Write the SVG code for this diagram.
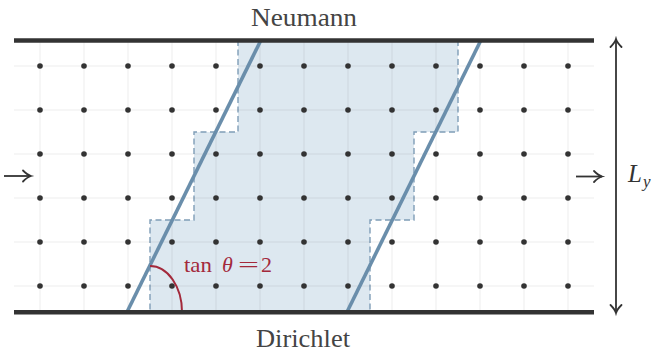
<svg xmlns="http://www.w3.org/2000/svg" width="654" height="352" viewBox="0 0 654 352">
<style>
.grid{stroke:#000;stroke-opacity:0.075;stroke-width:1;fill:none}
.dot{fill:#333}
.bar{stroke:#333;stroke-width:4.5;fill:none}
.dash{stroke:#7f9db7;stroke-width:1.4;stroke-dasharray:6,3.5;fill:none}
.slope{stroke:#6a8eab;stroke-width:3.6;fill:none}
.arr{stroke:#333;stroke-width:1.8;fill:none}
text{font-family:"Liberation Serif","DejaVu Serif","Noto Serif","Times New Roman",Tinos,Times,FreeSerif,serif}
</style>
<defs>
<marker id="ah" markerUnits="userSpaceOnUse" markerWidth="16" markerHeight="16" refX="1" refY="0" viewBox="-9 -8 11 16" orient="auto-start-reverse">
<path d="M-7,-5.5 Q-2.5,-1 1,0 Q-2.5,1 -7,5.5" stroke="#333" stroke-width="1.8" fill="none" stroke-linecap="round"/>
</marker>
</defs>
<rect width="654" height="352" fill="#fff"/>
<g id="region">
<polygon points="238,40 458,40 458,132 414,132 414,220 370,220 370,312 150,312 150,220 194,220 194,132 238,132" fill="#dde8f0"/>
<path class="dash" d="M238,40 V132 H194 V220 H150 V312"/>
<path class="dash" d="M458,40 V132 H414 V220 H370 V312"/>
</g>
<g id="grid">
<path class="grid" d="M14,66 H594 M14,110 H594 M14,154 H594 M14,198 H594 M14,242 H594 M14,286 H594"/>
<path class="grid" d="M40,40 V312 M84,40 V312 M128,40 V312 M172,40 V312 M216,40 V312 M260,40 V312 M304,40 V312 M348,40 V312 M392,40 V312 M436,40 V312 M480,40 V312 M524,40 V312 M568,40 V312"/>
</g>
<g id="dots">
<g id="row1"><circle class="dot" cx="40" cy="66" r="2.8"/><circle class="dot" cx="84" cy="66" r="2.8"/><circle class="dot" cx="128" cy="66" r="2.8"/><circle class="dot" cx="172" cy="66" r="2.8"/><circle class="dot" cx="216" cy="66" r="2.8"/><circle class="dot" cx="260" cy="66" r="2.8"/><circle class="dot" cx="304" cy="66" r="2.8"/><circle class="dot" cx="348" cy="66" r="2.8"/><circle class="dot" cx="392" cy="66" r="2.8"/><circle class="dot" cx="436" cy="66" r="2.8"/><circle class="dot" cx="480" cy="66" r="2.8"/><circle class="dot" cx="524" cy="66" r="2.8"/><circle class="dot" cx="568" cy="66" r="2.8"/></g>
<g id="row2"><circle class="dot" cx="40" cy="110" r="2.8"/><circle class="dot" cx="84" cy="110" r="2.8"/><circle class="dot" cx="128" cy="110" r="2.8"/><circle class="dot" cx="172" cy="110" r="2.8"/><circle class="dot" cx="216" cy="110" r="2.8"/><circle class="dot" cx="260" cy="110" r="2.8"/><circle class="dot" cx="304" cy="110" r="2.8"/><circle class="dot" cx="348" cy="110" r="2.8"/><circle class="dot" cx="392" cy="110" r="2.8"/><circle class="dot" cx="436" cy="110" r="2.8"/><circle class="dot" cx="480" cy="110" r="2.8"/><circle class="dot" cx="524" cy="110" r="2.8"/><circle class="dot" cx="568" cy="110" r="2.8"/></g>
<g id="row3"><circle class="dot" cx="40" cy="154" r="2.8"/><circle class="dot" cx="84" cy="154" r="2.8"/><circle class="dot" cx="128" cy="154" r="2.8"/><circle class="dot" cx="172" cy="154" r="2.8"/><circle class="dot" cx="216" cy="154" r="2.8"/><circle class="dot" cx="260" cy="154" r="2.8"/><circle class="dot" cx="304" cy="154" r="2.8"/><circle class="dot" cx="348" cy="154" r="2.8"/><circle class="dot" cx="392" cy="154" r="2.8"/><circle class="dot" cx="436" cy="154" r="2.8"/><circle class="dot" cx="480" cy="154" r="2.8"/><circle class="dot" cx="524" cy="154" r="2.8"/><circle class="dot" cx="568" cy="154" r="2.8"/></g>
<g id="row4"><circle class="dot" cx="40" cy="198" r="2.8"/><circle class="dot" cx="84" cy="198" r="2.8"/><circle class="dot" cx="128" cy="198" r="2.8"/><circle class="dot" cx="172" cy="198" r="2.8"/><circle class="dot" cx="216" cy="198" r="2.8"/><circle class="dot" cx="260" cy="198" r="2.8"/><circle class="dot" cx="304" cy="198" r="2.8"/><circle class="dot" cx="348" cy="198" r="2.8"/><circle class="dot" cx="392" cy="198" r="2.8"/><circle class="dot" cx="436" cy="198" r="2.8"/><circle class="dot" cx="480" cy="198" r="2.8"/><circle class="dot" cx="524" cy="198" r="2.8"/><circle class="dot" cx="568" cy="198" r="2.8"/></g>
<g id="row5"><circle class="dot" cx="40" cy="242" r="2.8"/><circle class="dot" cx="84" cy="242" r="2.8"/><circle class="dot" cx="128" cy="242" r="2.8"/><circle class="dot" cx="172" cy="242" r="2.8"/><circle class="dot" cx="216" cy="242" r="2.8"/><circle class="dot" cx="260" cy="242" r="2.8"/><circle class="dot" cx="304" cy="242" r="2.8"/><circle class="dot" cx="348" cy="242" r="2.8"/><circle class="dot" cx="392" cy="242" r="2.8"/><circle class="dot" cx="436" cy="242" r="2.8"/><circle class="dot" cx="480" cy="242" r="2.8"/><circle class="dot" cx="524" cy="242" r="2.8"/><circle class="dot" cx="568" cy="242" r="2.8"/></g>
<g id="row6"><circle class="dot" cx="40" cy="286" r="2.8"/><circle class="dot" cx="84" cy="286" r="2.8"/><circle class="dot" cx="128" cy="286" r="2.8"/><circle class="dot" cx="172" cy="286" r="2.8"/><circle class="dot" cx="216" cy="286" r="2.8"/><circle class="dot" cx="260" cy="286" r="2.8"/><circle class="dot" cx="304" cy="286" r="2.8"/><circle class="dot" cx="348" cy="286" r="2.8"/><circle class="dot" cx="392" cy="286" r="2.8"/><circle class="dot" cx="436" cy="286" r="2.8"/><circle class="dot" cx="480" cy="286" r="2.8"/><circle class="dot" cx="524" cy="286" r="2.8"/><circle class="dot" cx="568" cy="286" r="2.8"/></g>
</g>
<g id="connectors">
<line class="slope" x1="261" y1="40" x2="127" y2="312"/>
<line class="slope" x1="481" y1="40" x2="347" y2="312"/>
<path d="M150,266 A32,46 0 0 1 182,312" stroke="#a3293b" stroke-width="2" fill="none"/>
<line class="arr" x1="4" y1="176" x2="31" y2="176" marker-end="url(#ah)"/>
<line class="arr" x1="576" y1="176.5" x2="602" y2="176.5" marker-end="url(#ah)"/>
<line class="arr" x1="616" y1="39" x2="616" y2="313" marker-start="url(#ah)" marker-end="url(#ah)"/>
</g>
<g id="boundaries">
<line class="bar" x1="14" y1="40.5" x2="594" y2="40.5"/>
<line class="bar" x1="14" y1="312.3" x2="594" y2="312.3"/>
</g>
<g id="labels">
<text id="neumann" fill="#444" x="304" y="26" font-size="25" text-anchor="middle" textLength="106" lengthAdjust="spacingAndGlyphs">Neumann</text>
<text id="dirichlet" fill="#444" x="303" y="347" font-size="25" text-anchor="middle" textLength="94" lengthAdjust="spacingAndGlyphs">Dirichlet</text>
<text id="angle" font-size="22" fill="#a3293b" y="272"><tspan x="184" textLength="28" lengthAdjust="spacingAndGlyphs">tan</tspan><tspan x="222" font-style="italic">θ</tspan><tspan x="238" textLength="21" lengthAdjust="spacingAndGlyphs">=</tspan><tspan x="261">2</tspan></text>
<text id="ly" fill="#333" font-style="italic"><tspan x="628" y="182" font-size="25">L</tspan><tspan x="643" y="187" font-size="17">y</tspan></text>
</g>
</svg>
